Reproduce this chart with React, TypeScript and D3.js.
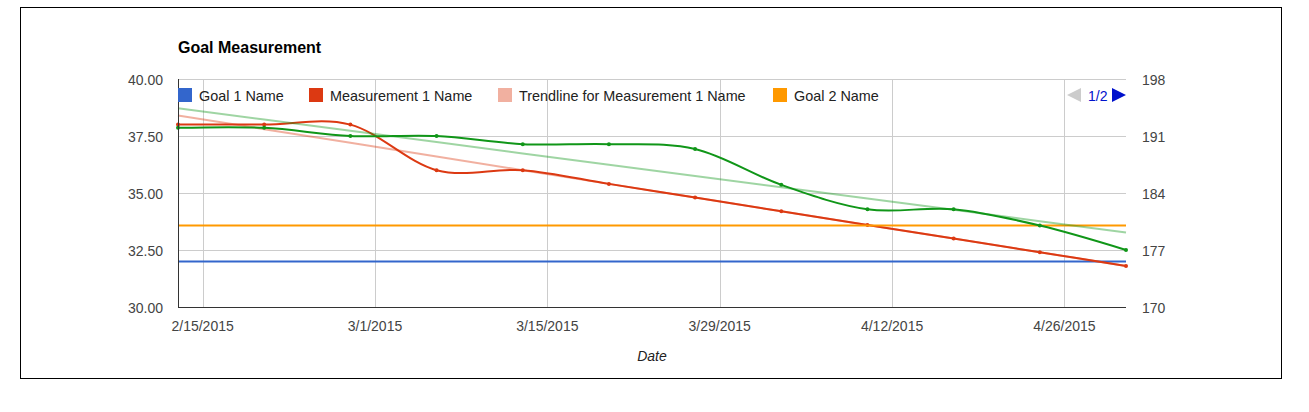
import React from "react"
import * as d3 from "d3"

// weekly measurement dates
const dates = [
  "2015-02-13", "2015-02-20", "2015-02-27", "2015-03-06", "2015-03-13", "2015-03-20",
  "2015-03-27", "2015-04-03", "2015-04-10", "2015-04-17", "2015-04-24", "2015-05-01",
]
const measurement1 = [38, 38, 38, 36, 36, 35.4, 34.8, 34.2, 33.6, 33, 32.4, 31.8]
const measurement2 = [192, 192, 191, 191, 190, 190, 189.4, 185, 182, 182, 180, 177]
const goal1 = 32
const goal2 = 180

const tickDates = ["2015-02-15", "2015-03-01", "2015-03-15", "2015-03-29", "2015-04-12", "2015-04-26"]
const leftTicks = [30, 32.5, 35, 37.5, 40]
const rightTicks = [170, 177, 184, 191, 198]

const legendNames = ["Goal 1 Name", "Measurement 1 Name", "Trendline for Measurement 1 Name", "Goal 2 Name"]
const legendX = [178, 309, 498, 773]

const parse = d3.timeParse("%Y-%m-%d")
const fmt = d3.timeFormat("%-m/%-d/%Y")
const FONT = "Arial, 'Liberation Sans', sans-serif"

const BLUE = "#3366cc"
const RED = "#dc3912"
const ORANGE = "#ff9900"
const GREEN = "#109618"

// least squares fit, like the chart's linear trendline
const trend = (vals: number[]) => {
  const n = vals.length
  const xm = (n - 1) / 2
  const ym = d3.mean(vals) as number
  let sxy = 0
  let sxx = 0
  vals.forEach((v, i) => {
    sxy += (i - xm) * (v - ym)
    sxx += (i - xm) * (i - xm)
  })
  const slope = sxy / sxx
  return vals.map((_, i) => ym + slope * (i - xm))
}

const App = () => {
  const dd = dates.map(d => parse(d) as Date)
  const x = d3.scaleTime().domain([dd[0], dd[dd.length - 1]]).range([178, 1126])
  const yL = d3.scaleLinear().domain([30, 40]).range([307, 79])
  const yR = d3.scaleLinear().domain([170, 198]).range([307, 79])

  const curve = d3.curveCardinal.tension(0)
  const lineL = d3.line<number>().x((_, i) => x(dd[i])).y(v => yL(v)).curve(curve)
  const lineR = d3.line<number>().x((_, i) => x(dd[i])).y(v => yR(v)).curve(curve)
  const straightL = d3.line<number>().x((_, i) => x(dd[i])).y(v => yL(v))
  const straightR = d3.line<number>().x((_, i) => x(dd[i])).y(v => yR(v))

  const trend1 = trend(measurement1)
  const trend2 = trend(measurement2)
  const [x0, x1] = x.range()

  return (
    <svg width={1309} height={412} style={{ position: "absolute", left: 0, top: 0 }} fontFamily={FONT}>
      <rect x={0} y={0} width={1309} height={412} fill="#fff" />
      <rect x={20.5} y={7.5} width={1261} height={371} fill="none" stroke="#000" strokeWidth={1} />

      <text x={178} y={52.5} fontSize={16} fontWeight="bold" fill="#000">Goal Measurement</text>

      {/* gridlines */}
      {leftTicks.map(t => (
        <line key={t} x1={x0} x2={x1} y1={yL(t) + 0.5} y2={yL(t) + 0.5} stroke="#cccccc" />
      ))}
      {tickDates.map(t => {
        const px = Math.round(x(parse(t) as Date)) + 0.5
        return <line key={t} x1={px} x2={px} y1={79} y2={307} stroke="#cccccc" />
      })}

      {/* axis labels */}
      {leftTicks.map(t => (
        <text key={t} x={163} y={yL(t) + 5.5} textAnchor="end" fontSize={14} fill="#444">{t.toFixed(2)}</text>
      ))}
      {rightTicks.map(t => (
        <text key={t} x={1142} y={yR(t) + 5.5} fontSize={14} fill="#444">{t}</text>
      ))}
      {tickDates.map(t => (
        <text key={t} x={x(parse(t) as Date)} y={330.5} textAnchor="middle" fontSize={14} fill="#444">
          {fmt(parse(t) as Date)}
        </text>
      ))}
      <text x={(x0 + x1) / 2} y={361} textAnchor="middle" fontSize={14} fontStyle="italic" fill="#222">Date</text>

      {/* series */}
      <path d={straightL(dates.map(() => goal1)) as string} fill="none" stroke={BLUE} strokeWidth={2} />
      <path d={straightL(trend1) as string} fill="none" stroke={RED} strokeOpacity={0.4} strokeWidth={2} />
      <path d={lineL(measurement1) as string} fill="none" stroke={RED} strokeWidth={2} />
      {measurement1.map((v, i) => (
        <circle key={i} cx={x(dd[i])} cy={yL(v)} r={2} fill={RED} />
      ))}
      <path d={straightR(dates.map(() => goal2)) as string} fill="none" stroke={ORANGE} strokeWidth={2} />
      <path d={straightR(trend2) as string} fill="none" stroke={GREEN} strokeOpacity={0.4} strokeWidth={2} />
      <path d={lineR(measurement2) as string} fill="none" stroke={GREEN} strokeWidth={2} />
      {measurement2.map((v, i) => (
        <circle key={i} cx={x(dd[i])} cy={yR(v)} r={2} fill={GREEN} />
      ))}

      {/* axis lines */}
      <line x1={x0} x2={x1} y1={307.5} y2={307.5} stroke="#333" />
      <line x1={178.5} x2={178.5} y1={79} y2={308} stroke="#333" />

      {/* legend */}
      {legendNames.map((name, i) => (
        <g key={name}>
          <rect x={legendX[i]} y={88} width={14} height={14}
            fill={[BLUE, RED, RED, ORANGE][i]} fillOpacity={i === 2 ? 0.4 : 1} />
          <text x={legendX[i] + 21} y={101} fontSize={14.4} fill="#222">{name}</text>
        </g>
      ))}
      <path d="M1081,88 L1067,95 L1081,102 Z" fill="#cccccc" />
      <text x={1088} y={101} fontSize={14} fill="#0011cc">1/2</text>
      <path d="M1112,88 L1126,95 L1112,102 Z" fill="#0011cc" />
    </svg>
  )
}

export default App
